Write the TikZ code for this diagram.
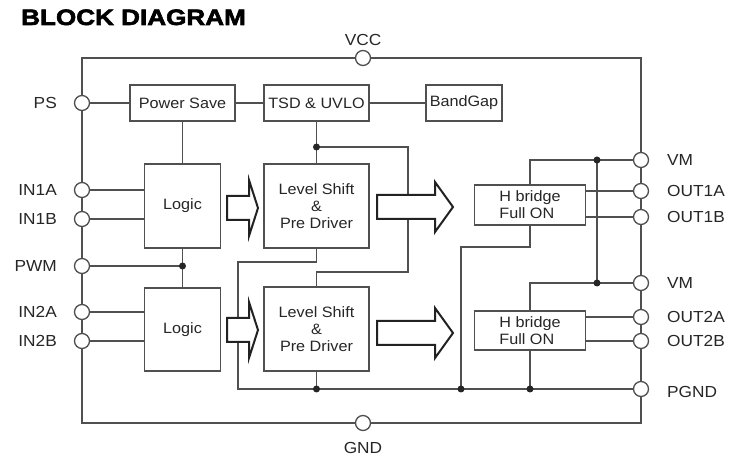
\documentclass[tikz,border=0pt]{standalone}
\usepackage{fontspec}
\setmainfont{Liberation Sans}
\newfontfamily\pinfont{Liberation Sans}[FakeStretch=1.08]
\newfontfamily\titlefont{Liberation Sans Bold}[FakeBold=2.6,FakeStretch=1.17]
\definecolor{wirec}{HTML}{505050}
\definecolor{txtc}{HTML}{262626}
\definecolor{arrc}{HTML}{222222}
\begin{document}
\begin{tikzpicture}[x=1pt,y=-1pt,
  wire/.style={draw=wirec, line width=1.3pt},
  blk/.style={draw=wirec, line width=1.3pt, fill=white, inner sep=0pt,
    font=\pinfont\fontsize{15}{17}\selectfont, text=txtc, align=center},
  pin/.style={circle, draw=wirec, line width=1.3pt, fill=white, minimum size=15pt, inner sep=0pt},
  jdot/.style={circle, fill=black!85, minimum size=7pt, inner sep=0pt},
  hollow/.style={draw=arrc, line width=2pt, fill=white, line join=miter},
  lbl/.style={font=\pinfont\fontsize{16}{18}\selectfont, text=txtc, inner sep=0pt}]
\useasboundingbox (0,0) rectangle (745,470);
\fill[white] (0,0) rectangle (745,470);

% title
\node[anchor=base west, inner sep=0pt, font=\titlefont\fontsize{22.3}{24}\selectfont] (title) at (21,25) {BLOCK DIAGRAM};

% chip frame
\draw[wire] (82,58) rectangle (641,423);

% blocks
\node[blk, minimum width=105pt, minimum height=36pt] (psbox) at (182.5,103) {Power Save};
\node[blk, minimum width=105pt, minimum height=36pt] (tsd) at (316.5,103) {TSD \& UVLO};
\node[blk, minimum width=76pt, minimum height=36pt] (bg) at (464,103) {BandGap};
\node[blk, minimum width=76pt, minimum height=84pt] (logic1) at (182.5,206) {Logic};
\node[blk, minimum width=76pt, minimum height=83pt] (logic2) at (182.5,329.5) {Logic};
\node[blk, minimum width=105pt, minimum height=84pt] (ls1) at (316.5,206) {Level Shift\\\&\\Pre Driver};
\node[blk, minimum width=105pt, minimum height=84pt] (ls2) at (316.5,329) {Level Shift\\\&\\Pre Driver};
\node[blk, minimum width=111pt, minimum height=40pt, align=left] (h1) at (530,205) {H bridge\\Full ON};
\node[blk, minimum width=111pt, minimum height=39pt, align=left] (h2) at (530,330.5) {H bridge\\Full ON};

% junction coordinates
\coordinate (dtsd) at (316.5,147);
\coordinate (b1) at (408,147);
\coordinate (b2) at (408,272);
\coordinate (b3) at (316.5,272);
\coordinate (lsb) at (316.5,262);
\coordinate (gl) at (238,262);
\coordinate (gb) at (238,389);
\coordinate (dgl) at (316.5,389);
\coordinate (dgh) at (461,389);
\coordinate (dh2) at (530,389);
\coordinate (hb1) at (530,247);
\coordinate (hb2) at (461,247);
\coordinate (dvm1) at (597,160);
\coordinate (dvm2) at (597,283);
\coordinate (dpwm) at (182.5,266);

% pins
\node[pin] (vcc) at (363,58) {};
\node[pin] (psp) at (82,103) {};
\node[pin] (in1a) at (82,190) {};
\node[pin] (in1b) at (82,219) {};
\node[pin] (pwm) at (82,266) {};
\node[pin] (in2a) at (82,312) {};
\node[pin] (in2b) at (82,341) {};
\node[pin] (gnd) at (363,423) {};
\node[pin] (vm1) at (641,160) {};
\node[pin] (out1a) at (641,191) {};
\node[pin] (out1b) at (641,217) {};
\node[pin] (vm2) at (641,283) {};
\node[pin] (out2a) at (641,317) {};
\node[pin] (out2b) at (641,341) {};
\node[pin] (pgnd) at (641,389) {};

% wires
\draw[wire] (psp.east) -- (psbox.west);
\draw[wire] (psbox.east) -- (tsd.west);
\draw[wire] (tsd.east) -- (bg.west);
\draw[wire] (psbox.south) -- (logic1.north);
\draw[wire] (in1a.east) -- (in1a.east -| logic1.west);
\draw[wire] (in1b.east) -- (in1b.east -| logic1.west);
\draw[wire] (in2a.east) -- (in2a.east -| logic2.west);
\draw[wire] (in2b.east) -- (in2b.east -| logic2.west);
\draw[wire] (pwm.east) -- (dpwm);
\draw[wire] (logic1.south) -- (logic2.north);
\draw[wire] (tsd.south) -- (ls1.north);
\draw[wire] (dtsd) -- (b1) -- (b2) -- (b3) -- (ls2.north);
\draw[wire] (ls1.south) -- (lsb) -- (gl) -- (gb) -- (pgnd.west);
\draw[wire] (ls2.south) -- (dgl);
\draw[wire] (h1.south) -- (hb1) -- (hb2) -- (dgh);
\draw[wire] (h1.north) |- (vm1.west);
\draw[wire] (dvm1) -- (dvm2);
\draw[wire] (vm2.west) -| (h2.north);
\draw[wire] (h2.south) -- (dh2);
\draw[wire] (h1.east |- out1a) -- (out1a.west);
\draw[wire] (h1.east |- out1b) -- (out1b.west);
\draw[wire] (h2.east |- out2a) -- (out2a.west);
\draw[wire] (h2.east |- out2b) -- (out2b.west);

% junction dots
\foreach \p in {dtsd,dgl,dgh,dh2,dvm1,dvm2,dpwm} \node[jdot] at (\p) {};

% hollow arrows
\draw[hollow] (227,196) -- (249,196) -- (249,180) -- (258,208) -- (249,236) -- (249,220) -- (227,220) -- cycle;
\draw[hollow] (227,318) -- (249,318) -- (249,302) -- (258,330) -- (249,358) -- (249,342) -- (227,342) -- cycle;
\draw[hollow] (377,195) -- (435,195) -- (435,182) -- (453,207) -- (435,232) -- (435,219) -- (377,219) -- cycle;
\draw[hollow] (377,321) -- (435,321) -- (435,308) -- (453,333) -- (435,358) -- (435,345) -- (377,345) -- cycle;

% pin labels
\node[lbl] (lvcc) at (363,40) {VCC};
\node[lbl] (lgnd) at (363,448) {GND};
\node[lbl, anchor=east] (lps) at (57,103) {PS};
\node[lbl, anchor=east] (lin1a) at (57,190) {IN1A};
\node[lbl, anchor=east] (lin1b) at (57,219) {IN1B};
\node[lbl, anchor=east] (lpwm) at (57,266) {PWM};
\node[lbl, anchor=east] (lin2a) at (57,312) {IN2A};
\node[lbl, anchor=east] (lin2b) at (57,341) {IN2B};
\node[lbl, anchor=west] (lvm1) at (667,160) {VM};
\node[lbl, anchor=west] (lout1a) at (667,191) {OUT1A};
\node[lbl, anchor=west] (lout1b) at (667,217) {OUT1B};
\node[lbl, anchor=west] (lvm2) at (667,283) {VM};
\node[lbl, anchor=west] (lout2a) at (667,317) {OUT2A};
\node[lbl, anchor=west] (lout2b) at (667,341) {OUT2B};
\node[lbl, anchor=west] (lpgnd) at (667,392) {PGND};
\end{tikzpicture}
\end{document}
